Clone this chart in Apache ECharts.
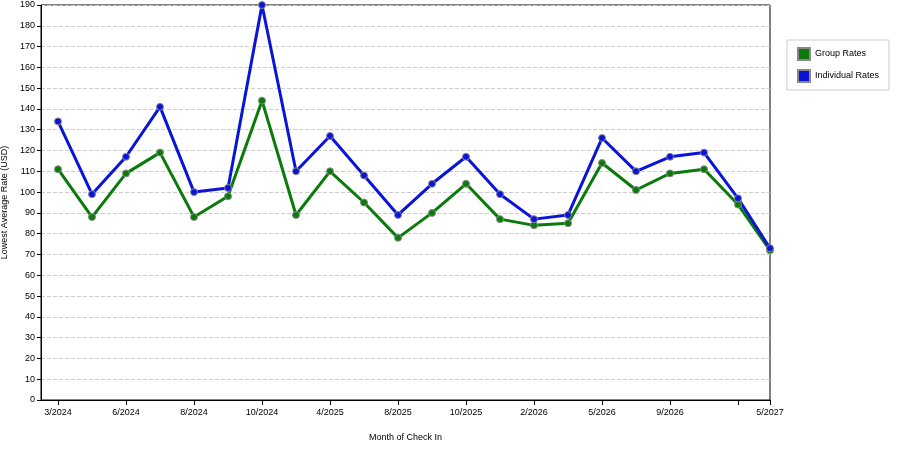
<!DOCTYPE html>
<html><head><meta charset="utf-8">
<script src="https://cdn.jsdelivr.net/npm/echarts@6/dist/echarts.min.js"></script>
<style>html,body{margin:0;padding:0;background:#fff}#c{width:900px;height:450px}</style>
</head><body><div id="c"></div>
<script>
const xPos = [0.5,1.5,2.5,3.5,4.5,5.5,6.5,7.5,8.5,9.5,10.5,11.5,12.5,13.5,14.5,15.5,16.5,17.5,18.5,19.5,20.5,21.44];
const tickPos = [0.5,2.5,4.5,6.5,8.5,10.5,12.5,14.5,16.5,18.5,20.5,21.44];
const tickLabels = ["3/2024","6/2024","8/2024","10/2024","4/2025","8/2025","10/2025","2/2026","5/2026","9/2026","","5/2027"];
const groupRates = [111,88,109,119,88,98,144,89,110,95,78,90,104,87,84,85,114,101,109,111,94,72];
const individualRates = [134,99,117,141,100,102,190,110,127,108,89,104,117,99,87,89,126,110,117,119,97,73];

const font = "Liberation Sans";
const chart = echarts.init(document.getElementById('c'));
function mk(name, vals, color){
  return {name, type:'line', data: vals.map((v,i)=>[xPos[i],v]), symbol:'circle', symbolSize:7,
    lineStyle:{color, width:3}, itemStyle:{color, borderColor:'#888', borderWidth:1}};
}
chart.setOption({
  animation:false,
  textStyle:{fontFamily:font},
  grid:{left:41,right:130,top:5,bottom:50,containLabel:false,outerBoundsMode:'none',show:true,borderColor:'#000',borderWidth:1},
  legend:{orient:'vertical', right:11, top:40, data:['Group Rates','Individual Rates'],
    itemWidth:12, itemHeight:12, icon:'rect', borderColor:'#ccc', borderWidth:1, padding:[7,10,7,10],
    itemGap:8, textStyle:{fontSize:9, color:'#000', fontFamily:font}},
  xAxis:{type:'value', min:0, max:21.44, name:'Month of Check In', nameLocation:'middle', nameGap:33,
    nameTextStyle:{fontSize:9,color:'#000'},
    axisLine:{lineStyle:{color:'#000'}}, splitLine:{show:false},
    axisTick:{show:true, customValues:tickPos, length:5, lineStyle:{color:'#000'}},
    axisLabel:{customValues:tickPos, fontSize:9, color:'#000',
      formatter:v=>{const i=tickPos.findIndex(t=>Math.abs(t-v)<1e-6);return i>=0?tickLabels[i]:'';}}},
  yAxis:{type:'value', min:0, max:190, interval:10, name:'Lowest Average Rate (USD)', nameLocation:'middle', nameGap:22,
    nameTextStyle:{fontSize:9,color:'#000'},
    axisLine:{show:true,lineStyle:{color:'#000'}}, axisTick:{show:true,length:4},
    axisLabel:{fontSize:9,color:'#000',margin:6},
    splitLine:{lineStyle:{color:'#ccc',type:'dashed'}}},
  series:[mk('Group Rates',groupRates,'#0a7a0a'), mk('Individual Rates',individualRates,'#0a14d8')]
});
</script></body></html>
